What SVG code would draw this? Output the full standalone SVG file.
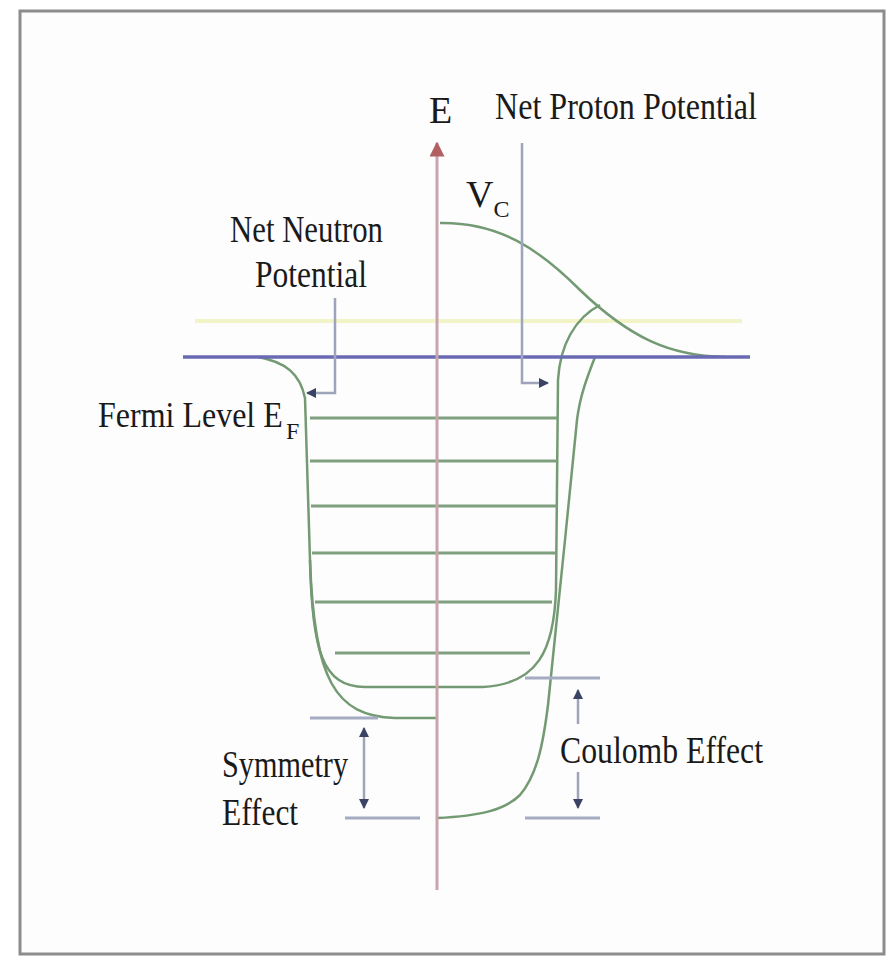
<svg xmlns="http://www.w3.org/2000/svg" width="892" height="958" viewBox="0 0 892 958">
<defs>
<style>
.t{font-family:"Liberation Serif","Times New Roman",serif;fill:#1a1a1a;font-size:38px}
.sub{font-size:24px}
.lvl{stroke:#7f9f7f;stroke-width:3;fill:none}
.well{stroke:#739a73;stroke-width:2.5;fill:none}
.lead{stroke:#9ea4bc;stroke-width:2.5;fill:none}
.dim{stroke:#a4abc2;stroke-width:3;fill:none}
</style>
<marker id="ah" viewBox="0 0 10 10" refX="9" refY="5" markerWidth="4" markerHeight="4" orient="auto-start-reverse" markerUnits="strokeWidth">
<path d="M0,0 L10,5 L0,10 z" fill="#3a4266"/>
</marker>
<marker id="axh" viewBox="0 0 10 10" refX="9" refY="5" markerWidth="5" markerHeight="5" orient="auto" markerUnits="strokeWidth">
<path d="M0,0 L10,5 L0,10 z" fill="#b06060"/>
</marker>
</defs>
<rect x="0" y="0" width="892" height="958" fill="#ffffff"/>
<rect x="20" y="11" width="864" height="943" fill="#fdfdfd" stroke="#8c8c8c" stroke-width="3"/>

<g id="background-lines">
<line x1="195" y1="321" x2="742" y2="321" stroke="#f2f4c8" stroke-width="4"/>
</g>

<g id="wells">
<path class="well" d="M258,357 C286,362 300,374 305,398 L310,560 C312,650 322,687 365,687 L483,687 C538,684 554,650 556,590 L558,380 C560,345 575,318 600,305"/>
<path class="well" d="M310,560 C314,680 335,716 395,718 L437,718"/>
<path class="well" d="M595,357 C588,375 580,395 577,420 L565,540 L548,705 C543,745 537,775 520,795 C505,810 480,816 437,818"/>
<path class="well" d="M440,223 C500,222 540,250 580,290 C630,338 670,356 725,357"/>
</g>

<g id="levels">
<line class="lvl" x1="310" y1="418" x2="557" y2="418"/>
<line class="lvl" x1="310" y1="461" x2="557" y2="461"/>
<line class="lvl" x1="311" y1="506" x2="557" y2="506"/>
<line class="lvl" x1="312" y1="553" x2="556" y2="553"/>
<line class="lvl" x1="315" y1="602" x2="552" y2="602"/>
<line class="lvl" x1="335" y1="653" x2="530" y2="653"/>
</g>

<g id="fermi-level">
<line x1="183" y1="357" x2="750" y2="357" stroke="#6a6ab4" stroke-width="3.5"/>
</g>

<g id="axis">
<line x1="437" y1="890" x2="437" y2="143" stroke="#c9a4ac" stroke-width="3" marker-end="url(#axh)"/>
</g>

<g id="connectors">
<path class="lead" d="M522,143 L522,383 L548,383" marker-end="url(#ah)"/>
<path class="lead" d="M335,298 L335,393 L307,393" marker-end="url(#ah)"/>
<line class="dim" x1="310" y1="718" x2="378" y2="718"/>
<line class="dim" x1="345" y1="818" x2="420" y2="818"/>
<line class="lead" x1="364" y1="808" x2="364" y2="728" marker-start="url(#ah)" marker-end="url(#ah)"/>
<line class="dim" x1="525" y1="678" x2="600" y2="678"/>
<line class="dim" x1="525" y1="818" x2="600" y2="818"/>
<line class="lead" x1="578" y1="724" x2="578" y2="690" marker-end="url(#ah)"/>
<line class="lead" x1="578" y1="772" x2="578" y2="808" marker-end="url(#ah)"/>
</g>

<g id="labels">
<text class="t" x="429" y="123">E</text>
<text class="t" x="495" y="119" textLength="262" lengthAdjust="spacingAndGlyphs">Net Proton Potential</text>
<text class="t" x="466" y="207">V<tspan class="sub" dy="10">C</tspan></text>
<text class="t" x="230" y="242" textLength="153" lengthAdjust="spacingAndGlyphs">Net Neutron</text>
<text class="t" x="255" y="287" textLength="112" lengthAdjust="spacingAndGlyphs">Potential</text>
<text class="t" style="font-size:32px" transform="translate(98 427) scale(1 1.15)">Fermi Level E</text>
<text class="t sub" x="286" y="439">F</text>
<text class="t" x="222" y="777" textLength="126" lengthAdjust="spacingAndGlyphs">Symmetry</text>
<text class="t" x="222" y="825" textLength="76" lengthAdjust="spacingAndGlyphs">Effect</text>
<text class="t" x="560" y="763" textLength="203" lengthAdjust="spacingAndGlyphs">Coulomb Effect</text>
</g>
</svg>
